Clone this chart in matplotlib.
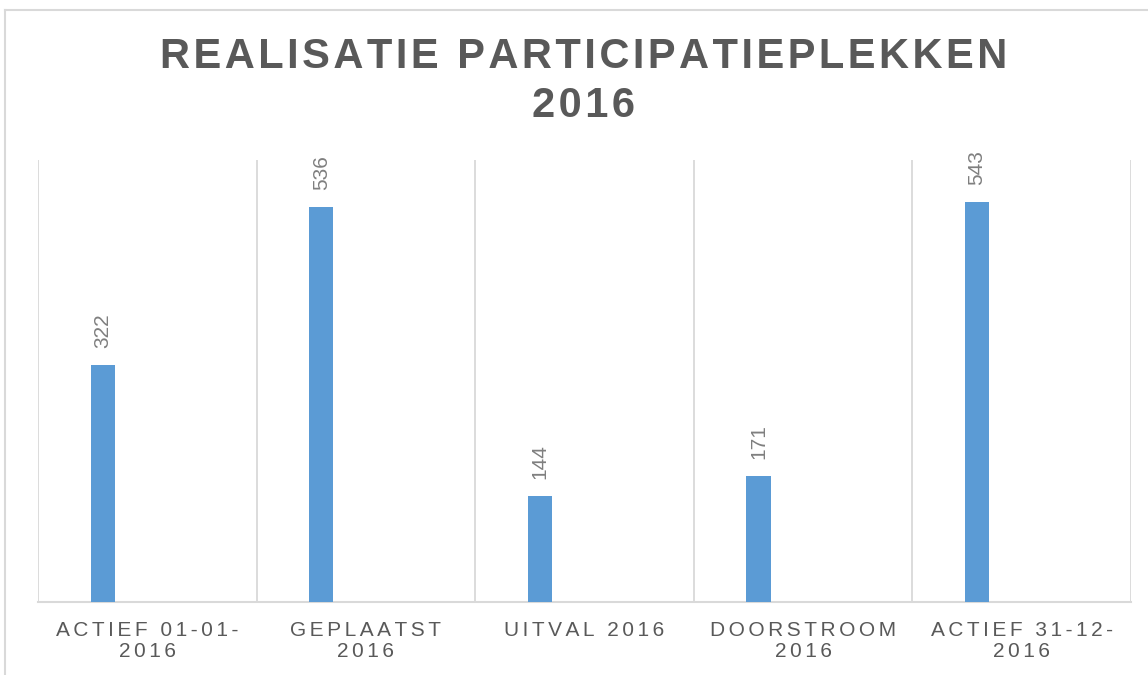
import matplotlib
matplotlib.use("Agg")
import matplotlib.pyplot as plt
from matplotlib.lines import Line2D

categories = ["ACTIEF 01-01-\n2016", "GEPLAATST\n2016", "UITVAL 2016", "DOORSTROOM\n2016", "ACTIEF 31-12-\n2016"]
values = [322, 536, 144, 171, 543]
title = "REALISATIE PARTICIPATIEPLEKKEN\n2016"

FAM = ["Liberation Sans", "DejaVu Sans"]
HS = "\u200a"

def spaced(s, n=1):
    lines = s.split("\n")
    return "\n".join((HS * n).join(list(l)) for l in lines)

fig = plt.figure(figsize=(11.48, 6.75), dpi=100)
ax = fig.add_axes([38/1148, 73/675, (1131-38)/1148, (602-160)/675])

bar_color = "#5b9bd5"
offset = -0.204
width = 0.11
xs = list(range(len(values)))
bars = ax.bar([x + offset for x in xs], values, width=width, color=bar_color, zorder=3)
for x, v in zip(xs, values):
    ax.annotate(str(v), (x + offset, v), xytext=(0, 12), textcoords="offset points",
                rotation=90, ha="center", va="bottom", color="#7f7f7f",
                fontsize=15, family=FAM)

ax.set_xlim(-0.5, len(values) - 0.5)
ax.set_ylim(0, 600)
ax.set_yticks([])
ax.set_xticks(xs)
ax.set_xticklabels([spaced(c, 2) for c in categories], family=FAM, fontsize=15,
                   color="#595959", linespacing=1.1)
ax.tick_params(axis="x", length=0, pad=14)
for b in [x - 0.5 for x in range(len(values) + 1)]:
    ax.axvline(b, color="#d9d9d9", lw=1.3, zorder=1)
for s in ["top", "left", "right"]:
    ax.spines[s].set_visible(False)
ax.spines["bottom"].set_color("#d9d9d9")
ax.spines["bottom"].set_linewidth(1.5)

fig.text(584/1148, 1 - 37/675, spaced(title, 1), ha="center", va="top", fontsize=30,
         fontweight="bold", color="#595959", family=FAM, linespacing=1.3)

# outer frame
fig.add_artist(Line2D([5/1148, 1], [1 - 10/675, 1 - 10/675], color="#d9d9d9", lw=1.5, transform=fig.transFigure))
fig.add_artist(Line2D([5/1148, 5/1148], [0, 1 - 10/675], color="#d9d9d9", lw=1.5, transform=fig.transFigure))

fig.savefig("out.png", dpi=100)
